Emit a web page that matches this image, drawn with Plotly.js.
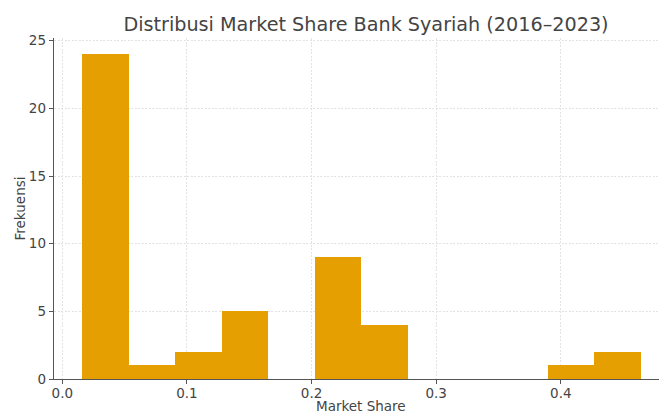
<!DOCTYPE html>
<html>
<head>
<meta charset="utf-8">
<script src="https://cdn.plot.ly/plotly-3.0.1.min.js"></script>
<style>html,body{margin:0;padding:0;overflow:hidden;background:#fff;}</style>
</head>
<body>
<div id="chart" style="width:659px;height:414px;"></div>
<script>
// Histogram bins
const binEdges = [0.0157, 0.0531, 0.0905, 0.1278, 0.1652, 0.2026, 0.2400, 0.2773, 0.3147, 0.3521, 0.3894, 0.4268, 0.4642];
const counts = [24, 1, 2, 5, 0, 9, 4, 0, 0, 0, 1, 2];
const xTickVals = [0.0, 0.1, 0.2, 0.3, 0.4];
const xTickText = ["0.0", "0.1", "0.2", "0.3", "0.4"];
const yTickVals = [0, 5, 10, 15, 20, 25];

const centers = counts.map((c, i) => (binEdges[i] + binEdges[i + 1]) / 2);
const widths = counts.map((c, i) => binEdges[i + 1] - binEdges[i]);

const font = {family: "DejaVu Sans, sans-serif", color: "#444", size: 13};

Plotly.newPlot("chart", [{
  type: "bar",
  x: centers,
  y: counts,
  width: widths,
  marker: {color: "#E69F00", line: {width: 0}},
  hoverinfo: "skip"
}], {
  width: 659, height: 414,
  margin: {l: 54, r: 0, t: 38, b: 35, pad: 0},
  paper_bgcolor: "#fff", plot_bgcolor: "#fff",
  font: font,
  showlegend: false,
  bargap: 0,
  title: {text: "Distribusi Market Share Bank Syariah (2016–2023)", font: {family: "DejaVu Sans, sans-serif", size: 19.2, color: "#444"}, x: 366 / 659, xanchor: "center", y: 1 - 24 / 414, yanchor: "middle", yref: "container"},
  annotations: [{
    text: "Market Share", xref: "paper", yref: "paper",
    x: 0.508, y: -26.5 / 341, xanchor: "center", yanchor: "middle",
    borderpad: 0,
    showarrow: false, font: {size: 13.5, color: "#444"}
  }],
  xaxis: {
    range: [-0.0067, 0.4788],
    tickvals: xTickVals, ticktext: xTickText,
    ticks: "outside", ticklen: 4, tickcolor: "#555", tickwidth: 1,
    ticklabelstandoff: -3,
    showline: true, linecolor: "#555", linewidth: 1.3,
    showgrid: true, gridcolor: "#dcdcdc", griddash: "2px,1.5px", gridwidth: 0.8,
    zeroline: false,
    tickfont: {size: 13.5, color: "#444"}
  },
  yaxis: {
    range: [0, 25.2],
    tickvals: yTickVals,
    ticks: "outside", ticklen: 4, tickcolor: "#555", tickwidth: 1,
    showline: true, linecolor: "#555", linewidth: 1.3,
    showgrid: true, gridcolor: "#dcdcdc", griddash: "2px,1.5px", gridwidth: 0.8,
    zeroline: false,
    tickfont: {size: 13.5, color: "#444"},
    title: {text: "Frekuensi", font: {size: 13.5, color: "#444"}, standoff: 0}
  }
}, {staticPlot: true, displayModeBar: false});
</script>
</body>
</html>
